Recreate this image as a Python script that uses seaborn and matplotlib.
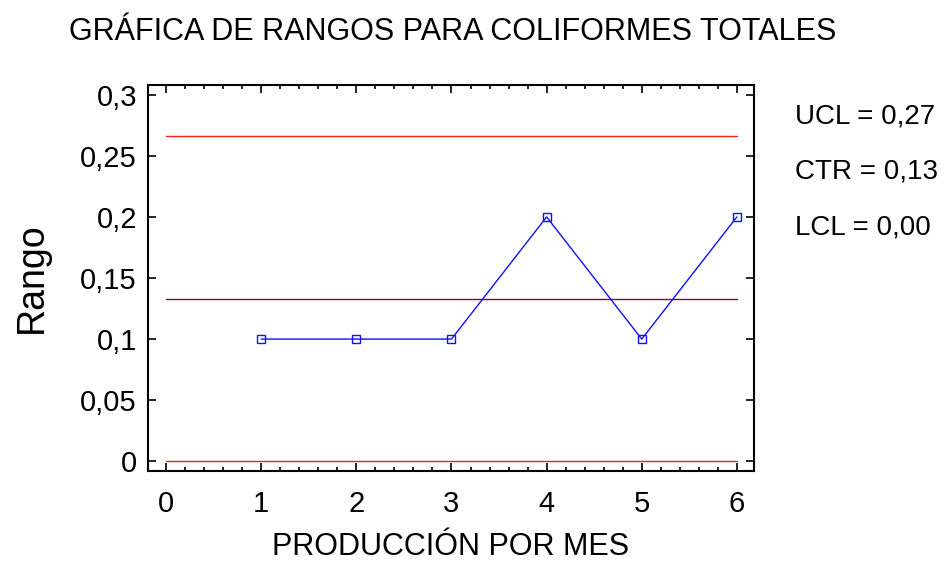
import matplotlib
matplotlib.use("Agg")
import matplotlib.pyplot as plt
import matplotlib.ticker as mticker
import seaborn as sns
import pandas as pd

# data
muestra = [1, 2, 3, 4, 5, 6]
rango = [0.1, 0.1, 0.1, 0.2, 0.1, 0.2]
ucl = 0.266
ctr = 0.133
lcl = 0.0
limites = ["UCL = 0,27", "CTR = 0,13", "LCL = 0,00"]

sns.set_style("ticks")
plt.rcParams['font.family'] = ['Liberation Sans', 'DejaVu Sans']
plt.rcParams['text.color'] = 'black'
plt.rcParams['axes.labelcolor'] = 'black'

df = pd.DataFrame({"x": muestra, "y": rango})

fig = plt.figure(figsize=(9.48, 5.64), dpi=100)
ax = fig.add_axes([148/948, 1 - 471/564, (754-148)/948, (471-85)/564])

# control limits
ax.plot([0, 6], [ucl, ucl], color="#ff2020", lw=1)
ax.plot([0, 6], [ctr, ctr], color="#8b0035", lw=1)
ax.plot([0, 6], [lcl, lcl], color="#e02040", lw=1)

sns.lineplot(data=df, x="x", y="y", ax=ax, color="#1010ff", lw=1,
             marker="s", markersize=6, markerfacecolor="none",
             markeredgecolor="#1010ff", markeredgewidth=1)

ax.set_xlim(-0.19, 6.18)
ax.set_ylim(-0.008, 0.308)
ax.set_xticks(range(7))
ax.xaxis.set_minor_locator(mticker.MultipleLocator(0.2))
ax.set_yticks([0, 0.05, 0.1, 0.15, 0.2, 0.25, 0.3])
ax.yaxis.set_major_formatter(mticker.FuncFormatter(
    lambda v, p: ("%g" % round(v, 2)).replace(".", ",")))

ax.tick_params(axis="both", which="both", direction="in", top=True, right=True,
               labelsize=21, width=1.2, colors="black")
ax.tick_params(axis="both", which="major", length=6)
ax.tick_params(axis="x", which="major", pad=14)
ax.tick_params(axis="y", which="major", pad=8)
ax.tick_params(axis="x", which="minor", length=3)
for s in ax.spines.values():
    s.set_linewidth(1.5)
    s.set_color("black")

ax.set_xlabel("PRODUCCIÓN POR MES", fontsize=22, labelpad=10)
ax.set_ylabel("Rango", fontsize=27, labelpad=22)

fig.text(0.477, 0.943, "GRÁFICA DE RANGOS PARA COLIFORMES TOTALES",
         ha="center", va="center", fontsize=22)

for i, t in enumerate(limites):
    fig.text(795/948, 1 - (117 + i*55)/564, t, ha="left", va="center", fontsize=20)

fig.savefig("out.png", dpi=100)
